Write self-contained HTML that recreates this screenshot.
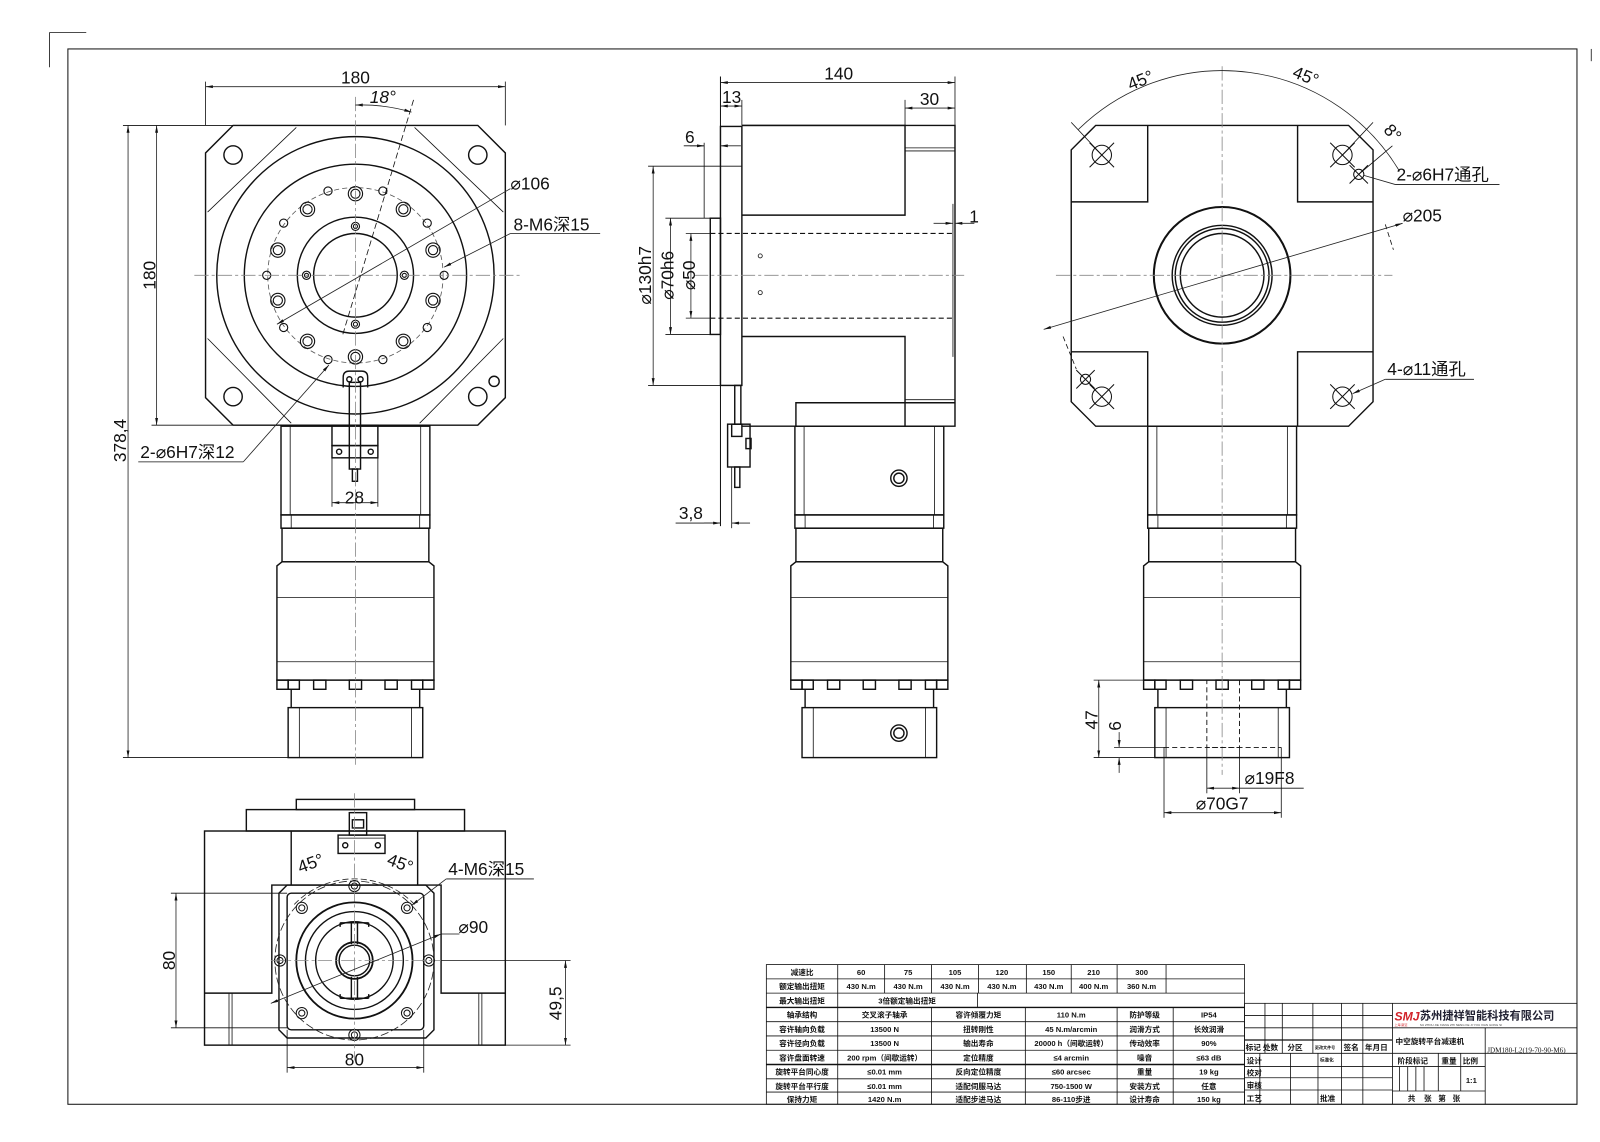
<!DOCTYPE html>
<html><head><meta charset="utf-8"><style>
html,body{margin:0;padding:0;background:#fff;}
svg{display:block;}
text{font-family:"Liberation Sans","Noto Sans CJK SC",sans-serif;fill:#111;}
.o{fill:none;stroke:#111;stroke-width:1.4;}
.t{fill:none;stroke:#111;stroke-width:0.8;}
.d{fill:none;stroke:#222;stroke-width:0.8;}
.c{fill:none;stroke:#888;stroke-width:0.8;stroke-dasharray:14 3 3 3;}
.h{fill:none;stroke:#111;stroke-width:1.1;stroke-dasharray:5 3;}
.dim{font-size:17px;}
.tb{font-size:7.5px;font-weight:bold;}
</style></head><body>
<svg width="1600" height="1142" viewBox="0 0 1568 1120" xmlns="http://www.w3.org/2000/svg">
<defs>
<marker id="a" viewBox="0 0 10 10" refX="10" refY="5" markerWidth="9" markerHeight="9" orient="auto-start-reverse"><path d="M0,3L10,5L0,7z" fill="#111"/></marker>
<g id="mot">
 <rect class="o" x="-73" y="418" width="146" height="87"/>
 <line class="t" x1="-64" y1="418" x2="-64" y2="505"/><line class="t" x1="64" y1="418" x2="64" y2="505"/>
 <rect class="o" x="-73" y="505" width="146" height="13"/>
 <line class="t" x1="-63" y1="505" x2="-63" y2="518"/><line class="t" x1="63" y1="505" x2="63" y2="518"/>
 <rect class="o" x="-72" y="518" width="144" height="33"/>
 <path class="o" d="M-72,551 L-77,555 L-77,667 L77,667 L77,555 L72,551 Z"/>
 <line class="t" x1="-77" y1="586" x2="77" y2="586"/><line class="t" x1="-77" y1="649" x2="77" y2="649"/>
 <rect class="o" x="-77" y="667" width="11" height="9"/><rect class="o" x="-66" y="667" width="11" height="9"/>
 <rect class="o" x="-41" y="667" width="12" height="9"/><rect class="o" x="-6" y="667" width="12" height="9"/>
 <rect class="o" x="29" y="667" width="12" height="9"/><rect class="o" x="55" y="667" width="11" height="9"/><rect class="o" x="66" y="667" width="11" height="9"/>
 <line class="o" x1="-63" y1="676" x2="-63" y2="694"/><line class="o" x1="63" y1="676" x2="63" y2="694"/>
 <rect class="o" x="-66" y="694" width="132" height="49"/>
 <line class="t" x1="-55" y1="694" x2="-55" y2="743"/><line class="t" x1="55" y1="694" x2="55" y2="743"/>
</g>
</defs>

<!-- frame -->
<rect class="o" x="66" y="48" width="1480" height="1035" style="stroke-width:1"/>
<path class="t" d="M48,66 L48,32 L84,32"/>
<path class="t" d="M1560,48 L1560,60"/>

<!-- ============ VIEW 1 ============ -->
<use href="#mot" transform="translate(348,0)"/>
<path class="o" d="M228,123 L468,123 L495,150 L495,390 L468,417 L228,417 L201,390 L201,150 Z"/>
<path class="t" d="M290,125 L203,208 M406,125 L493,208 M203,332 L285,415 M493,332 L411,415"/>
<circle class="o" cx="228" cy="152" r="9"/><circle class="o" cx="468" cy="152" r="9"/>
<circle class="o" cx="228" cy="389" r="9"/><circle class="o" cx="468" cy="389" r="9"/>
<circle class="o" cx="484" cy="374" r="5"/>
<circle class="o" cx="348" cy="270" r="136"/>
<circle class="o" cx="348" cy="270" r="109"/>
<circle class="h" cx="348" cy="270" r="86" style="stroke-width:0.8;stroke:#555"/>
<circle class="o" cx="348" cy="270" r="57"/>
<circle class="o" cx="348" cy="270" r="41"/>
<g class="o" style="stroke-width:1.1">
<circle cx="348" cy="190" r="7"/><circle cx="395" cy="205.3" r="7"/><circle cx="424.1" cy="245.3" r="7"/><circle cx="424.1" cy="294.7" r="7"/><circle cx="395" cy="334.7" r="7"/><circle cx="348" cy="350" r="7"/><circle cx="301" cy="334.7" r="7"/><circle cx="271.9" cy="294.7" r="7"/><circle cx="271.9" cy="245.3" r="7"/><circle cx="301" cy="205.3" r="7"/>
<circle cx="348" cy="190" r="4.5"/><circle cx="395" cy="205.3" r="4.5"/><circle cx="424.1" cy="245.3" r="4.5"/><circle cx="424.1" cy="294.7" r="4.5"/><circle cx="395" cy="334.7" r="4.5"/><circle cx="348" cy="350" r="4.5"/><circle cx="301" cy="334.7" r="4.5"/><circle cx="271.9" cy="294.7" r="4.5"/><circle cx="271.9" cy="245.3" r="4.5"/><circle cx="301" cy="205.3" r="4.5"/>
<circle cx="374.9" cy="187.3" r="4"/><circle cx="418.4" cy="218.8" r="4"/><circle cx="435" cy="270" r="4"/><circle cx="418.4" cy="321.2" r="4"/><circle cx="374.9" cy="352.7" r="4"/><circle cx="321.1" cy="352.7" r="4"/><circle cx="277.6" cy="321.2" r="4"/><circle cx="261" cy="270" r="4"/><circle cx="277.6" cy="218.8" r="4"/><circle cx="321.1" cy="187.3" r="4"/>
<circle cx="348" cy="222" r="4"/><circle cx="396" cy="270" r="4"/><circle cx="348" cy="318" r="4"/><circle cx="300" cy="270" r="4"/>
<circle cx="348" cy="222" r="2"/><circle cx="396" cy="270" r="2"/><circle cx="348" cy="318" r="2"/><circle cx="300" cy="270" r="2"/>
</g>
<!-- bracket -->
<path class="o" d="M336,380 L336,370 Q336,364 342,364 L354,364 Q360,364 360,370 L360,380"/>
<circle class="o" cx="342" cy="372" r="2.5"/><circle class="o" cx="353" cy="372" r="2.5"/>
<rect class="o" x="342" y="375" width="11" height="85"/>
<rect class="o" x="325" y="417" width="45" height="20"/>
<rect class="o" x="325" y="437" width="45" height="12"/>
<circle class="o" cx="332" cy="443" r="2.5"/><circle class="o" cx="363" cy="443" r="2.5"/>
<rect class="o" x="345" y="460" width="5" height="12"/>
<!-- centerlines -->
<line class="c" x1="190" y1="270" x2="510" y2="270"/>
<line class="c" x1="348" y1="95" x2="348" y2="750"/>
<!-- dims -->
<line class="t" x1="201" y1="80" x2="201" y2="123"/><line class="t" x1="495" y1="80" x2="495" y2="123"/>
<line class="d" x1="201" y1="85" x2="495" y2="85" marker-start="url(#a)" marker-end="url(#a)"/>
<text class="dim" x="348" y="82" text-anchor="middle">180</text>
<path class="t" d="M348,103 L352,103" marker-start="url(#a)"/>
<path class="d" d="M350,103 A170,170 0 0 1 403,110" marker-end="url(#a)"/>
<line class="t" x1="405" y1="98" x2="335" y2="330" style="stroke-dasharray:6 3"/>
<text class="dim" x="362" y="101" font-style="italic">18°</text>
<line class="t" x1="120" y1="123" x2="228" y2="123"/><line class="t" x1="148" y1="417" x2="228" y2="417"/>
<line class="d" x1="153" y1="123" x2="153" y2="417" marker-start="url(#a)" marker-end="url(#a)"/>
<text class="dim" transform="translate(152,270) rotate(-90)" text-anchor="middle">180</text>
<line class="t" x1="120" y1="743" x2="289" y2="743"/>
<line class="d" x1="125" y1="123" x2="125" y2="743" marker-start="url(#a)" marker-end="url(#a)"/>
<text class="dim" transform="translate(123,432) rotate(-90)" text-anchor="middle">378,4</text>
<line class="d" x1="500" y1="185" x2="271" y2="318" marker-end="url(#a)"/>
<text class="dim" x="500" y="186">⌀106</text>
<line class="d" x1="500" y1="229" x2="435" y2="262" marker-end="url(#a)"/>
<line class="t" x1="500" y1="229" x2="588" y2="229"/>
<text class="dim" x="503" y="226">8-M6深15</text>
<line class="d" x1="238" y1="453" x2="322" y2="358" marker-end="url(#a)"/>
<line class="t" x1="135" y1="453" x2="238" y2="453"/>
<text class="dim" x="137" y="449">2-⌀6H7深12</text>
<line class="t" x1="325" y1="449" x2="325" y2="497"/><line class="t" x1="370" y1="449" x2="370" y2="497"/>
<line class="d" x1="325" y1="493" x2="370" y2="493" marker-start="url(#a)" marker-end="url(#a)"/>
<text class="dim" x="347" y="494" text-anchor="middle">28</text>

<!-- ============ VIEW 2 ============ -->
<use href="#mot" transform="translate(852,0)"/>
<circle class="o" cx="881" cy="469" r="8"/><circle class="o" cx="881" cy="469" r="5"/>
<circle class="o" cx="881" cy="719" r="8"/><circle class="o" cx="881" cy="719" r="5"/>
<line class="o" x1="706" y1="75" x2="706" y2="516" style="stroke-width:1"/>
<rect class="o" x="706" y="124" width="21" height="254"/>
<line class="t" x1="706" y1="163" x2="727" y2="163"/>
<rect class="o" x="696" y="214" width="10" height="114"/>
<path class="o" d="M727,123 L936,123 L936,418 L727,418"/>
<path class="o" d="M727,123 L887,123 L887,211 L727,211"/>
<line class="t" x1="887" y1="145" x2="936" y2="145"/><line class="t" x1="887" y1="148" x2="936" y2="148"/>
<path class="o" d="M727,330 L887,330 L887,418"/>
<path class="o" d="M780,418 L780,395 L936,395"/>
<line class="t" x1="887" y1="392" x2="936" y2="392"/>
<line class="h" x1="696" y1="229" x2="936" y2="229"/>
<line class="h" x1="696" y1="312" x2="936" y2="312"/>
<line class="c" x1="680" y1="270" x2="945" y2="270"/>
<circle class="t" cx="745" cy="251" r="2"/><circle class="t" cx="745" cy="287" r="2"/>
<line class="t" x1="934" y1="200" x2="934" y2="350"/>
<line class="d" x1="915" y1="219" x2="934" y2="219" marker-end="url(#a)"/>
<line class="d" x1="955" y1="219" x2="936" y2="219" marker-end="url(#a)"/>
<text class="dim" x="950" y="218">1</text>
<!-- bracket -->
<rect class="o" x="720" y="378" width="6" height="38"/>
<rect class="o" x="713" y="416" width="22" height="42"/>
<rect class="o" x="717" y="416" width="10" height="12"/>
<rect class="o" x="731" y="430" width="5" height="10"/>
<rect class="o" x="720" y="458" width="5" height="20"/>
<!-- dims -->
<line class="t" x1="936" y1="75" x2="936" y2="123"/>
<line class="d" x1="706" y1="81" x2="936" y2="81" marker-start="url(#a)" marker-end="url(#a)"/>
<text class="dim" x="822" y="78" text-anchor="middle">140</text>
<line class="t" x1="727" y1="98" x2="727" y2="123"/><line class="t" x1="887" y1="98" x2="887" y2="123"/>
<line class="d" x1="706" y1="104" x2="727" y2="104" marker-start="url(#a)" marker-end="url(#a)"/>
<text class="dim" x="717" y="101" text-anchor="middle">13</text>
<line class="d" x1="887" y1="106" x2="936" y2="106" marker-start="url(#a)" marker-end="url(#a)"/>
<text class="dim" x="911" y="103" text-anchor="middle">30</text>
<line class="t" x1="670" y1="143" x2="690" y2="143"/>
<line class="t" x1="690" y1="140" x2="690" y2="214"/>
<line class="d" x1="676" y1="143" x2="690" y2="143" marker-end="url(#a)"/>
<line class="d" x1="726" y1="143" x2="706" y2="143" marker-end="url(#a)"/>
<text class="dim" x="676" y="140" text-anchor="middle">6</text>
<line class="t" x1="635" y1="163" x2="706" y2="163"/><line class="t" x1="635" y1="378" x2="706" y2="378"/>
<line class="d" x1="640" y1="163" x2="640" y2="378" marker-start="url(#a)" marker-end="url(#a)"/>
<text class="dim" transform="translate(638,270) rotate(-90)" text-anchor="middle">⌀130h7</text>
<line class="t" x1="652" y1="214" x2="696" y2="214"/><line class="t" x1="652" y1="328" x2="696" y2="328"/>
<line class="d" x1="657" y1="214" x2="657" y2="328" marker-start="url(#a)" marker-end="url(#a)"/>
<text class="dim" transform="translate(660,270) rotate(-90)" text-anchor="middle">⌀70h6</text>
<line class="t" x1="672" y1="229" x2="696" y2="229"/><line class="t" x1="672" y1="312" x2="696" y2="312"/>
<line class="d" x1="677" y1="229" x2="677" y2="312" marker-start="url(#a)" marker-end="url(#a)"/>
<text class="dim" transform="translate(681,270) rotate(-90)" text-anchor="middle">⌀50</text>
<line class="t" x1="717" y1="458" x2="717" y2="518"/>
<line class="t" x1="662" y1="513" x2="706" y2="513"/>
<line class="d" x1="690" y1="513" x2="706" y2="513" marker-end="url(#a)"/>
<line class="d" x1="735" y1="513" x2="717" y2="513" marker-end="url(#a)"/>
<text class="dim" x="677" y="509" text-anchor="middle">3,8</text>

<!-- ============ VIEW 3 ============ -->
<use href="#mot" transform="translate(1198,0)"/>
<path class="o" d="M1074,123 L1322,123 L1346,147 L1346,394 L1322,418 L1074,418 L1050,394 L1050,147 Z"/>
<path class="o" d="M1050,198 L1125,198 L1125,123 M1272,123 L1272,198 L1346,198 M1050,345 L1125,345 L1125,418 M1272,418 L1272,345 L1346,345"/>
<circle class="o" cx="1198" cy="270" r="67" style="stroke-width:2"/>
<circle class="o" cx="1198" cy="270" r="49"/>
<circle class="o" cx="1198" cy="270" r="46"/>
<circle class="o" cx="1198" cy="270" r="41"/>
<g class="o" style="stroke-width:1">
<circle cx="1080" cy="152" r="9.5"/><circle cx="1316" cy="152" r="9.5"/><circle cx="1080" cy="389" r="9.5"/><circle cx="1316" cy="389" r="9.5"/>
<path d="M1068,140 L1092,164 M1092,140 L1068,164 M1304,140 L1328,164 M1328,140 L1304,164 M1068,377 L1092,401 M1092,377 L1068,401 M1304,377 L1328,401 M1328,377 L1304,401"/>
<circle cx="1332" cy="171" r="5"/><circle cx="1064" cy="372" r="5"/>
<path d="M1323,180 L1341,162 M1323,162 L1341,180 M1055,381 L1073,363 M1055,363 L1073,381"/>
</g>
<line class="c" x1="1035" y1="270" x2="1365" y2="270"/>
<line class="c" x1="1198" y1="65" x2="1198" y2="760"/>
<path class="d" d="M1057,127 A202,202 0 0 1 1372,168"/>
<line class="t" x1="1050" y1="120" x2="1080" y2="152"/><line class="t" x1="1346" y1="120" x2="1316" y2="152"/>
<line class="t" x1="1365" y1="143" x2="1332" y2="171"/>
<line class="t" x1="1358" y1="220" x2="1366" y2="245" style="stroke-dasharray:5 3"/>
<line class="t" x1="1042" y1="330" x2="1055" y2="362" style="stroke-dasharray:5 3"/>
<text class="dim" transform="translate(1120,84) rotate(-22)" text-anchor="middle">45°</text>
<text class="dim" transform="translate(1278,80) rotate(22)" text-anchor="middle">45°</text>
<text class="dim" transform="translate(1361,134) rotate(48)" text-anchor="middle">8°</text>
<line class="d" x1="1023" y1="323" x2="1375" y2="219" marker-start="url(#a)" marker-end="url(#a)"/>
<text class="dim" x="1375" y="217">⌀205</text>
<line class="d" x1="1368" y1="181" x2="1337" y2="172"/>
<line class="t" x1="1368" y1="181" x2="1470" y2="181"/>
<text class="dim" x="1369" y="177">2-⌀6H7通孔</text>
<line class="d" x1="1358" y1="372" x2="1326" y2="386" marker-end="url(#a)"/>
<line class="t" x1="1358" y1="372" x2="1445" y2="372"/>
<text class="dim" x="1360" y="368">4-⌀11通孔</text>
<!-- bottom box hidden lines & dims -->
<rect class="h" x="1183" y="667" width="32" height="66" style="stroke-width:0.9"/>
<line class="h" x1="1141" y1="733" x2="1256" y2="733" style="stroke-width:0.9"/>
<line class="t" x1="1072" y1="667" x2="1183" y2="667"/><line class="t" x1="1072" y1="743" x2="1133" y2="743"/>
<line class="d" x1="1077" y1="667" x2="1077" y2="743" marker-start="url(#a)" marker-end="url(#a)"/>
<text class="dim" transform="translate(1076,706) rotate(-90)" text-anchor="middle">47</text>
<line class="t" x1="1092" y1="733" x2="1141" y2="733"/>
<line class="d" x1="1097" y1="718" x2="1097" y2="733" marker-end="url(#a)"/>
<line class="d" x1="1097" y1="758" x2="1097" y2="743" marker-end="url(#a)"/>
<text class="dim" transform="translate(1099,712) rotate(-90)" text-anchor="middle">6</text>
<line class="t" x1="1183" y1="733" x2="1183" y2="778"/><line class="t" x1="1215" y1="733" x2="1215" y2="778"/>
<line class="d" x1="1183" y1="773" x2="1215" y2="773" marker-start="url(#a)" marker-end="url(#a)"/>
<line class="t" x1="1215" y1="773" x2="1278" y2="773"/>
<text class="dim" x="1220" y="769">⌀19F8</text>
<line class="t" x1="1141" y1="733" x2="1141" y2="802"/><line class="t" x1="1256" y1="733" x2="1256" y2="802"/>
<line class="d" x1="1141" y1="797" x2="1256" y2="797" marker-start="url(#a)" marker-end="url(#a)"/>
<text class="dim" x="1198" y="794" text-anchor="middle">⌀70G7</text>

<!-- ============ BOTTOM VIEW ============ -->
<rect class="o" x="290" y="784" width="116" height="10"/>
<rect class="o" x="241" y="794" width="214" height="21"/>
<rect class="o" x="200" y="815" width="295" height="210"/>
<line class="o" x1="285" y1="815" x2="285" y2="868"/><line class="o" x1="409" y1="815" x2="409" y2="868"/>
<path class="o" d="M200,974 L266,974 L266,868 L432,868 L432,974 L495,974"/>
<line class="t" x1="224" y1="974" x2="224" y2="1025"/><line class="t" x1="227" y1="974" x2="227" y2="1025"/>
<line class="t" x1="469" y1="974" x2="469" y2="1025"/><line class="t" x1="472" y1="974" x2="472" y2="1025"/>
<path class="o" d="M281,868 L417,868 L425,876 L425,1010 L417,1018 L281,1018 L273,1010 L273,876 Z"/>
<rect class="o" x="281" y="876" width="134" height="134" rx="4"/>
<circle class="d" cx="347" cy="942" r="78" style="stroke-dasharray:8 3"/>
<circle class="o" cx="347" cy="942" r="57" style="stroke-width:1.8"/>
<circle class="o" cx="347" cy="942" r="48"/>
<circle class="o" cx="347" cy="942" r="38"/>
<circle class="o" cx="347" cy="942" r="18" style="stroke-width:1.8"/>
<circle class="o" cx="347" cy="942" r="15"/>
<path class="o" d="M333,905 L361,905 M333,905 L333,909 M361,905 L361,909 M333,979 L361,979 M333,979 L333,975 M361,979 L361,975"/>
<line class="o" x1="344" y1="905" x2="344" y2="926"/><line class="o" x1="350" y1="905" x2="350" y2="926"/>
<line class="o" x1="344" y1="958" x2="344" y2="979"/><line class="o" x1="350" y1="958" x2="350" y2="979"/>
<g class="o" style="stroke-width:1">
<circle cx="347" cy="869" r="5.5"/><circle cx="398.6" cy="890.4" r="5.5"/><circle cx="420" cy="942" r="5.5"/><circle cx="398.6" cy="993.6" r="5.5"/><circle cx="347" cy="1015" r="5.5"/><circle cx="295.4" cy="993.6" r="5.5"/><circle cx="274" cy="942" r="5.5"/><circle cx="295.4" cy="890.4" r="5.5"/>
<circle cx="347" cy="869" r="3"/><circle cx="398.6" cy="890.4" r="3"/><circle cx="420" cy="942" r="3"/><circle cx="398.6" cy="993.6" r="3"/><circle cx="347" cy="1015" r="3"/><circle cx="295.4" cy="993.6" r="3"/><circle cx="274" cy="942" r="3"/><circle cx="295.4" cy="890.4" r="3"/>
</g>
<rect class="o" x="342" y="797" width="17" height="22"/>
<rect class="o" x="345" y="804" width="11" height="8"/>
<rect class="o" x="331" y="819" width="46" height="18"/>
<line class="t" x1="331" y1="822" x2="377" y2="822"/>
<circle class="o" cx="338" cy="829" r="2.5"/><circle class="o" cx="370" cy="829" r="2.5"/>
<line class="c" x1="347" y1="778" x2="347" y2="1040"/>
<line class="c" x1="265" y1="942" x2="432" y2="942"/>
<path class="d" d="M288,887 A82,82 0 0 1 406,887" style="stroke-dasharray:6 3"/>
<text class="dim" transform="translate(306,852) rotate(-20)" text-anchor="middle">45°</text>
<text class="dim" transform="translate(390,852) rotate(20)" text-anchor="middle">45°</text>
<line class="d" x1="437" y1="862" x2="403" y2="888" marker-end="url(#a)"/>
<line class="t" x1="437" y1="862" x2="523" y2="862"/>
<text class="dim" x="439" y="858">4-M6深15</text>
<line class="d" x1="265" y1="984" x2="432" y2="916" marker-start="url(#a)" marker-end="url(#a)"/>
<line class="t" x1="432" y1="916" x2="450" y2="916"/>
<text class="dim" x="449" y="915">⌀90</text>
<line class="t" x1="167" y1="876" x2="281" y2="876"/><line class="t" x1="167" y1="1008" x2="281" y2="1008"/>
<line class="d" x1="172" y1="876" x2="172" y2="1008" marker-start="url(#a)" marker-end="url(#a)"/>
<text class="dim" transform="translate(171,942) rotate(-90)" text-anchor="middle">80</text>
<line class="t" x1="432" y1="942" x2="559" y2="942"/><line class="t" x1="495" y1="1025" x2="559" y2="1025"/>
<line class="d" x1="554" y1="942" x2="554" y2="1025" marker-start="url(#a)" marker-end="url(#a)"/>
<text class="dim" transform="translate(550,984) rotate(-90)" text-anchor="middle">49,5</text>
<line class="t" x1="281" y1="1010" x2="281" y2="1052"/><line class="t" x1="415" y1="1010" x2="415" y2="1052"/>
<line class="d" x1="281" y1="1047" x2="415" y2="1047" marker-start="url(#a)" marker-end="url(#a)"/>
<text class="dim" x="347" y="1045" text-anchor="middle">80</text>

<!-- ============ TABLE ============ -->
<g class="t" style="stroke-width:0.8">
<rect x="751" y="946" width="469" height="137"/>
<line x1="751" y1="960" x2="1220" y2="960"/><line x1="751" y1="974" x2="1220" y2="974"/>
<line x1="751" y1="988" x2="1220" y2="988" style="stroke-width:1.4"/>
<line x1="751" y1="1002" x2="1220" y2="1002"/><line x1="751" y1="1016" x2="1220" y2="1016"/>
<line x1="751" y1="1030" x2="1220" y2="1030"/><line x1="751" y1="1044" x2="1220" y2="1044" style="stroke-width:1.4"/>
<line x1="751" y1="1058" x2="1220" y2="1058"/><line x1="751" y1="1071" x2="1220" y2="1071"/>
<path d="M821,946 V1083 M867,946 V974 M913,946 V974 M959,946 V974 M1006,946 V974 M1050,946 V974 M1095,946 V974 M1143,946 V974 M958,974 V988 M913,988 V1083 M1005,988 V1083 M1095,988 V1083 M1150,988 V1083"/>
</g>
<g class="tb" text-anchor="middle">
<text x="786" y="956">减速比</text><text x="844" y="956">60</text><text x="890" y="956">75</text><text x="936" y="956">105</text><text x="982" y="956">120</text><text x="1028" y="956">150</text><text x="1072" y="956">210</text><text x="1119" y="956">300</text>
<text x="786" y="970">额定输出扭矩</text><text x="844" y="970">430 N.m</text><text x="890" y="970">430 N.m</text><text x="936" y="970">430 N.m</text><text x="982" y="970">430 N.m</text><text x="1028" y="970">430 N.m</text><text x="1072" y="970">400 N.m</text><text x="1119" y="970">360 N.m</text>
<text x="786" y="984">最大输出扭矩</text><text x="889" y="984">3倍额定输出扭矩</text>
<text x="786" y="998">轴承结构</text><text x="867" y="998">交叉滚子轴承</text><text x="959" y="998">容许倾覆力矩</text><text x="1050" y="998">110 N.m</text><text x="1122" y="998">防护等级</text><text x="1185" y="998">IP54</text>
<text x="786" y="1012">容许轴向负载</text><text x="867" y="1012">13500 N</text><text x="959" y="1012">扭转刚性</text><text x="1050" y="1012">45 N.m/arcmin</text><text x="1122" y="1012">润滑方式</text><text x="1185" y="1012">长效润滑</text>
<text x="786" y="1026">容许径向负载</text><text x="867" y="1026">13500 N</text><text x="959" y="1026">输出寿命</text><text x="1050" y="1026">20000 h（间歇运转）</text><text x="1122" y="1026">传动效率</text><text x="1185" y="1026">90%</text>
<text x="786" y="1040">容许盘面转速</text><text x="867" y="1040">200 rpm（间歇运转）</text><text x="959" y="1040">定位精度</text><text x="1050" y="1040">≤4 arcmin</text><text x="1122" y="1040">噪音</text><text x="1185" y="1040">≤63 dB</text>
<text x="786" y="1054">旋转平台同心度</text><text x="867" y="1054">≤0.01 mm</text><text x="959" y="1054">反向定位精度</text><text x="1050" y="1054">≤60 arcsec</text><text x="1122" y="1054">重量</text><text x="1185" y="1054">19 kg</text>
<text x="786" y="1068">旋转平台平行度</text><text x="867" y="1068">≤0.01 mm</text><text x="959" y="1068">适配伺服马达</text><text x="1050" y="1068">750-1500 W</text><text x="1122" y="1068">安装方式</text><text x="1185" y="1068">任意</text>
<text x="786" y="1081">保持力矩</text><text x="867" y="1081">1420 N.m</text><text x="959" y="1081">适配步进马达</text><text x="1050" y="1081">86-110步进</text><text x="1122" y="1081">设计寿命</text><text x="1185" y="1081">150 kg</text>
</g>

<!-- ============ TITLE BLOCK ============ -->
<g class="t" style="stroke-width:0.8">
<rect x="1220" y="984" width="326" height="99"/>
<line x1="1220" y1="996" x2="1365" y2="996"/><line x1="1220" y1="1008" x2="1365" y2="1008"/>
<line x1="1220" y1="1020" x2="1365" y2="1020" style="stroke-width:1.2"/>
<line x1="1220" y1="1033" x2="1365" y2="1033"/><line x1="1220" y1="1046" x2="1365" y2="1046"/>
<line x1="1220" y1="1057" x2="1365" y2="1057"/><line x1="1220" y1="1069" x2="1365" y2="1069"/>
<path d="M1240,984 V1033 M1257,984 V1033 M1287,984 V1033 M1315,984 V1083 M1336,984 V1083 M1365,984 V1083 M1235,1033 V1083 M1265,1033 V1083 M1292,1033 V1083"/>
<line x1="1365" y1="1008" x2="1546" y2="1008"/>
<line x1="1365" y1="1033" x2="1546" y2="1033"/>
<line x1="1365" y1="1046" x2="1456" y2="1046"/>
<line x1="1365" y1="1070" x2="1456" y2="1070"/>
<path d="M1456,1008 V1083 M1410,1033 V1070 M1432,1033 V1070 M1372,1046 V1070 M1380,1046 V1070 M1388,1046 V1070 M1396,1046 V1070"/>
</g>
<g class="tb">
<text x="1221" y="1030">标记</text><text x="1238" y="1030">处数</text><text x="1262" y="1030">分区</text><text x="1289" y="1029" style="font-size:4px">更改文件号</text><text x="1317" y="1030">签名</text><text x="1338" y="1030">年月日</text>
<text x="1222" y="1043">设计</text><text x="1222" y="1055">校对</text><text x="1222" y="1067">审核</text><text x="1222" y="1080">工艺</text>
<text x="1294" y="1041" style="font-size:4.5px">标准化</text><text x="1294" y="1080">批准</text>
<text x="1368" y="1024">中空旋转平台减速机</text>
<text x="1370" y="1043">阶段标记</text><text x="1413" y="1043">重量</text><text x="1434" y="1043">比例</text>
<text x="1437" y="1062">1:1</text>
<text x="1380" y="1080">共</text><text x="1396" y="1080">张</text><text x="1410" y="1080">第</text><text x="1424" y="1080">张</text>
</g>
<text x="1367" y="1001" style="font-size:12px;font-weight:bold;fill:#d2232a;font-style:italic">SMJ</text>
<text x="1367" y="1006" style="font-size:3px;fill:#d2232a">上海 斯迈</text>
<text x="1392" y="1000" style="font-size:11px;font-weight:bold;fill:#223">苏州捷祥智能科技有限公司</text>
<text x="1392" y="1006" style="font-size:3px;fill:#444">SU ZHOU JIE XIANG ZHI NENG KE JI YOU XIAN GONG SI</text>
<text x="1458" y="1032" style="font-size:7px;font-family:'Liberation Serif',serif">JDM180-L2(19-70-90-M6)</text>
</svg>
</body></html>
